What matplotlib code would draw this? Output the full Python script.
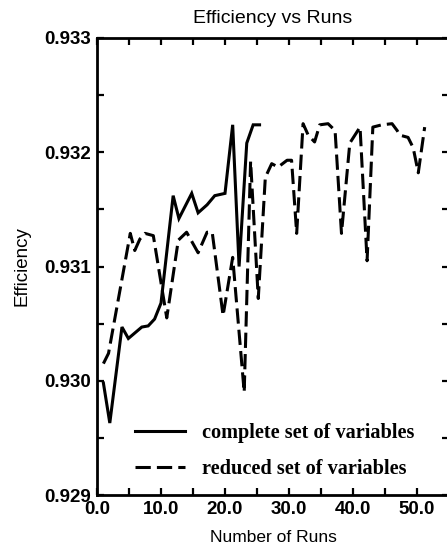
import matplotlib
matplotlib.use("Agg")
import matplotlib.pyplot as plt
from matplotlib.ticker import MultipleLocator, FormatStrFormatter

# complete set of variables (solid)
complete_runs = [1.0, 2.0, 3.9, 4.9, 7.0, 8.0, 9.0, 10.0, 11.9, 12.8, 14.8, 15.8,
                 17.2, 18.4, 20.0, 21.2, 22.2, 23.4, 24.4, 25.4]
complete_eff = [0.92998, 0.92963, 0.93047, 0.93037, 0.93047, 0.93048, 0.93054,
                0.93068, 0.93162, 0.93142, 0.93164, 0.93147, 0.93154, 0.93162,
                0.93164, 0.93224, 0.93100, 0.93208, 0.93224, 0.93224]

# reduced set of variables (dashed)
reduced_runs = [1.0, 1.8, 5.2, 5.9, 6.7, 7.5, 8.8, 10.9, 12.7, 14.0, 15.8, 17.2,
                18.0, 19.7, 21.2, 23.0, 24.0, 25.2, 26.3, 27.3, 28.3, 29.7, 30.4,
                31.2, 32.2, 33.0, 34.0, 34.8, 36.1, 37.2, 38.2, 39.5, 41.1, 42.2,
                43.1, 44.5, 46.1, 46.9, 47.3, 48.6, 49.4, 50.2, 51.2]
reduced_eff = [0.93015, 0.93024, 0.93129, 0.93114, 0.93124, 0.93129, 0.93127,
               0.93055, 0.93123, 0.93130, 0.93112, 0.93130, 0.93130, 0.93057,
               0.93108, 0.92990, 0.93192, 0.93072, 0.93178, 0.93190, 0.93187,
               0.93193, 0.93193, 0.93129, 0.93225, 0.93215, 0.93209, 0.93224,
               0.93225, 0.93219, 0.93129, 0.93208, 0.93222, 0.93105, 0.93222,
               0.93224, 0.93225, 0.93219, 0.93215, 0.93213, 0.93204, 0.93182,
               0.93222]

labels = ["complete set of variables", "reduced set of variables"]

fig = plt.figure(figsize=(4.47, 5.49), dpi=100)
ax = fig.add_axes([97/447, 54/549, 352/447, 457/549])

ax.plot(complete_runs, complete_eff, color="black", lw=2.2, ls="-",
        solid_joinstyle="miter", label=labels[0])
ax.plot(reduced_runs, reduced_eff, color="black", lw=2.2, ls=(0, (5, 2)),
        label=labels[1])

ax.set_xlim(0, 55)
ax.set_ylim(0.929, 0.933)
ax.xaxis.set_major_locator(MultipleLocator(10))
ax.xaxis.set_minor_locator(MultipleLocator(5))
ax.yaxis.set_major_locator(MultipleLocator(0.001))
ax.yaxis.set_minor_locator(MultipleLocator(0.0005))
ax.xaxis.set_major_formatter(FormatStrFormatter("%.1f"))
ax.yaxis.set_major_formatter(FormatStrFormatter("%.3f"))

ax.tick_params(which="both", direction="in", top=True, right=True,
               width=1.6, length=5, pad=4)
for lab in ax.get_xticklabels() + ax.get_yticklabels():
    lab.set_fontfamily("Liberation Sans")
    lab.set_fontweight("bold")
    lab.set_fontsize(13.5)
for sp in ax.spines.values():
    sp.set_linewidth(2)

ax.set_title("Efficiency vs Runs", fontfamily="Liberation Sans", fontsize=14,
             pad=11)
ax.set_xlabel("Number of Runs", fontfamily="Liberation Sans", fontsize=12.5,
              labelpad=9)
ax.set_ylabel("Efficiency", fontfamily="Liberation Sans", fontsize=13.5,
              labelpad=10)

leg = ax.legend(loc="lower left", bbox_to_anchor=(0.108, 0.035), frameon=False,
                borderpad=0, borderaxespad=0, handlelength=2.45,
                handletextpad=0.85, labelspacing=0.77,
                prop={"family": "Liberation Serif", "weight": "bold", "size": 14.6})

fig.savefig("out.png", dpi=100)
